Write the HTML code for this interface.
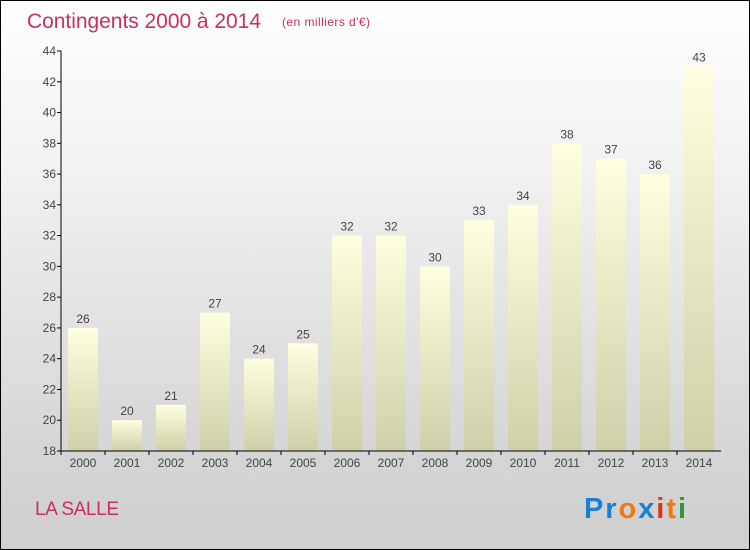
<!DOCTYPE html>
<html><head><meta charset="utf-8"><style>
body{margin:0}
#c{width:748px;height:548px;border:1px solid #000;position:relative;background:linear-gradient(#ffffff,#f2f2f2 30%,#d4d4d4 85%,#cfcfcf);font-family:"Liberation Sans",sans-serif;overflow:hidden}
</style></head><body>
<div id="c">
<svg width="748" height="548" id="s">
<defs><linearGradient id="g" x1="0" y1="0" x2="0" y2="1"><stop offset="0" stop-color="#ffffe0"/><stop offset="1" stop-color="#cfcfa8"/></linearGradient></defs>
<text x="26" y="27" font-size="21" fill="#c8305f" textLength="234">Contingents 2000 à 2014</text>
<text x="281" y="25" font-size="12" fill="#c8305f" textLength="88">(en milliers d'€)</text>
<text x="34" y="514" font-size="19" fill="#c8305f" textLength="84">LA SALLE</text>
<g font-size="29" font-weight="bold">
<text x="583" y="517" textLength="102"><tspan fill="#1a7fd6">Pr</tspan><tspan fill="#f07a10">o</tspan><tspan fill="#1a7fd6">x</tspan><tspan fill="#e03020">i</tspan><tspan fill="#f07a10">t</tspan><tspan fill="#2a9a40">i</tspan></text>
</g>
<g id="bars"></g><g id="axes"></g>
</svg></div>
<script>
const years=["2000","2001","2002","2003","2004","2005","2006","2007","2008","2009","2010","2011","2012","2013","2014"];
const values=[26,20,21,27,24,25,32,32,30,33,34,38,37,36,43];
const ticks=[18,20,22,24,26,28,30,32,34,36,38,40,42,44];
const NS="http://www.w3.org/2000/svg";
const y=v=>450-(v-18)*400/26;
const x=i=>82+i*44;
function mk(t,a,p){const e=document.createElementNS(NS,t);for(const k in a)e.setAttribute(k,a[k]);p.appendChild(e);return e;}
const B=document.getElementById('bars'),A=document.getElementById('axes');
values.forEach((v,i)=>{
 const r=mk('rect',{x:x(i)-15,y:y(v),width:30,height:450-y(v),fill:'url(#g)'},B);
 
 
 const t=mk('text',{x:x(i),y:y(v)-5,'font-size':12,fill:'#444','text-anchor':'middle'},B);t.textContent=v;
 
 
 const l=mk('text',{x:x(i),y:466,'font-size':12,fill:'#444','text-anchor':'middle'},A);l.textContent=years[i];
 
 
 mk('line',{x1:x(i)-22,x2:x(i)-22,y1:450,y2:454,stroke:'#000'},A);
});
const ya=mk('line',{x1:60,x2:60,y1:50,y2:450,stroke:'#000'},A);


const xa=mk('line',{x1:60,x2:720,y1:450,y2:450,stroke:'#000'},A);


ticks.forEach(t=>{
 mk('line',{x1:56,x2:60,y1:y(t),y2:y(t),stroke:'#000'},A);
 const l=mk('text',{x:55,y:y(t)+4,'font-size':12,fill:'#444','text-anchor':'end'},A);l.textContent=t;
 
 
});
</script>
</body></html>
